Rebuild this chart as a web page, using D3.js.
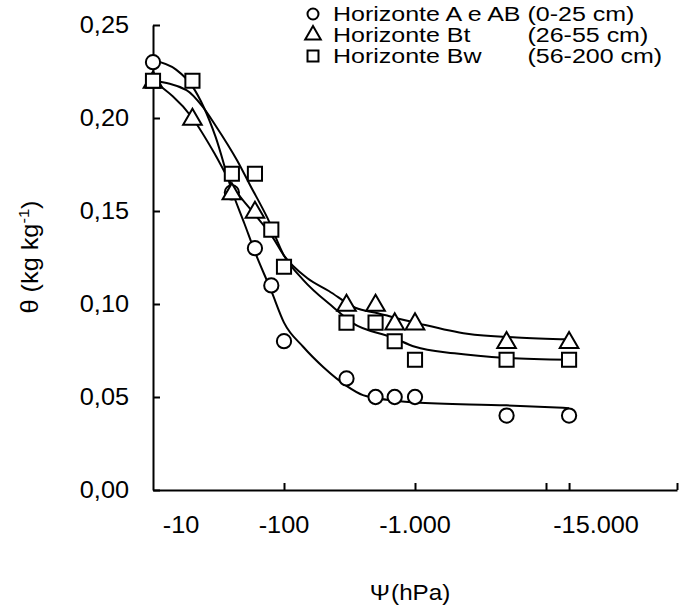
<!DOCTYPE html>
<html>
<head>
<meta charset="utf-8">
<script src="https://cdn.jsdelivr.net/npm/d3@7"></script>
<style>
  body { margin: 0; background: #fff; }
  text { font-family: Arial, "Liberation Sans", sans-serif; fill: #000; white-space: pre; }
</style>
</head>
<body>
<div id="chart"></div>
<script>
// measured points (suction in hPa, water content in kg/kg)
const suctionA  = [10, 40, 60, 80, 100, 300, 500, 700, 1000, 5000, 15000];
const thetaA    = [0.23, 0.16, 0.13, 0.11, 0.08, 0.06, 0.05, 0.05, 0.05, 0.04, 0.04];
const suctionBt = [10, 20, 40, 60, 300, 500, 700, 1000, 5000, 15000];
const thetaBt   = [0.22, 0.20, 0.16, 0.15, 0.10, 0.10, 0.09, 0.09, 0.08, 0.08];
const suctionBw = [10, 20, 40, 60, 80, 100, 300, 500, 700, 1000, 5000, 15000];
const thetaBw   = [0.22, 0.22, 0.17, 0.17, 0.14, 0.12, 0.09, 0.09, 0.08, 0.07, 0.07, 0.07];

// fitted curves
const fitSuctionA  = [10, 15, 20, 30, 40, 50, 60, 80, 100, 140, 200, 300, 400, 500, 700, 1000, 5000, 15000];
const fitThetaA    = [0.231, 0.226, 0.217, 0.19, 0.161, 0.143, 0.128, 0.107, 0.09, 0.077, 0.066, 0.056, 0.051, 0.0495, 0.048, 0.047, 0.0455, 0.044];
const fitSuctionBt = [10, 20, 30, 40, 60, 80, 100, 150, 220, 350, 520, 1000, 2500, 6000, 15000];
const fitThetaBt   = [0.22, 0.20, 0.18, 0.164, 0.148, 0.137, 0.126, 0.114, 0.107, 0.098, 0.095, 0.09, 0.084, 0.082, 0.081];
const fitSuctionBw = [10, 18, 24, 30, 44, 55, 75, 100, 140, 240, 330, 675, 1000, 2000, 5000, 15000];
const fitThetaBw   = [0.22, 0.215, 0.206, 0.196, 0.177, 0.164, 0.146, 0.126, 0.113, 0.098, 0.09, 0.082, 0.077, 0.0735, 0.071, 0.07];

const yTicks = [0, 0.05, 0.10, 0.15, 0.20, 0.25];
const xTickMarks = [100, 1000, 10000, 15000, 100000];
const xTickLabels = [10, 100, 1000, 15000];
const legendNames = ["Horizonte A e AB", "Horizonte Bt", "Horizonte Bw"];
const legendDepths = ["(0-25 cm)", "(26-55 cm)", "(56-200 cm)"];

let w = 679, h = 608;
let fontSize = 23, stretch = 1.1;

let svg = d3.select("#chart")
            .append("svg")
            .attr("width", w)
            .attr("height", h);

svg.append("rect").attr("width", w).attr("height", h).attr("fill", "#fff");

let x = d3.scaleLog().domain([10, 100000]).range([153, 677]);
let y = d3.scaleLinear().domain([0, 0.25]).range([490, 25]);

// portuguese number format: comma decimal, dot thousands
let locale = d3.formatLocale({decimal: ",", thousands: ".", grouping: [3], currency: ["", ""], minus: "-"});
let fmtY = locale.format(".2f");
let fmtX = locale.format(",d");

// axes, ticks pointing inside
let yAxis = d3.axisLeft(y).tickValues(yTicks).tickSizeInner(-7).tickSizeOuter(0).tickFormat("");
let xAxis = d3.axisBottom(x).tickValues(xTickMarks).tickSizeInner(-7).tickSizeOuter(0).tickFormat("");

let gy = svg.append("g").attr("transform", "translate(153,0)").call(yAxis);
let gx = svg.append("g").attr("transform", "translate(0,490)").call(xAxis);
[gy, gx].forEach(g => {
  g.selectAll("path, line").attr("stroke", "#000").attr("stroke-width", 2);
});

// stretched text helper (original lettering is a bit wider than Arial)
let addText = (parent, str, tx, ty, anchor, rot, size, sx) => {
  return parent.append("text")
    .attr("transform", `translate(${tx},${ty})${rot ? ` rotate(${rot})` : ""} scale(${sx || stretch},1)`)
    .attr("text-anchor", anchor)
    .style("font-size", (size || fontSize) + "px")
    .text(str);
};

yTicks.forEach(v => {
  addText(svg, fmtY(v), 129, y(v), "end").attr("dy", "0.36em");
});

// x labels sit roughly centred on their ticks, first and last nudged right
let labelNudge = [28, 0, 0, 27];
xTickLabels.forEach((v, i) => {
  addText(svg, fmtX(-v), x(v) + labelNudge[i], 533, "middle");
});

// axis titles
let yt = addText(svg, "", 38, 257, "middle", -90);
yt.append("tspan").text("θ (kg kg");
yt.append("tspan").attr("dy", -9).style("font-size", "15px").text("-1");
yt.append("tspan").attr("dy", 9).text(")");

let xt = addText(svg, "", 410, 600, "middle", 0, 22);
xt.append("tspan").text("Ψ");
xt.append("tspan").attr("dx", 1).text("(hPa)");

// fitted curves
let line = d3.line()
  .x(d => x(d[0]))
  .y(d => y(d[1]))
  .curve(d3.curveMonotoneX);

let curves = [
  d3.zip(fitSuctionA, fitThetaA),
  d3.zip(fitSuctionBt, fitThetaBt),
  d3.zip(fitSuctionBw, fitThetaBw)
];

svg.selectAll(".fit")
   .data(curves)
   .enter()
   .append("path")
   .attr("class", "fit")
   .attr("d", line)
   .attr("fill", "none")
   .attr("stroke", "#000")
   .attr("stroke-width", 2);

// markers
let symbols = [d3.symbolCircle, d3.symbolTriangle, d3.symbolSquare];
let sizes = [160, 150, 200];
let series = [
  d3.zip(suctionA, thetaA),
  d3.zip(suctionBt, thetaBt),
  d3.zip(suctionBw, thetaBw)
];

series.forEach((pts, i) => {
  svg.append("g")
     .selectAll("path")
     .data(pts)
     .enter()
     .append("path")
     .attr("d", d3.symbol().type(symbols[i]).size(sizes[i]))
     .attr("transform", d => `translate(${x(d[0])},${y(d[1]) + (i == 1 ? 1.5 : 0)})`)
     .attr("fill", "#fff")
     .attr("stroke", "#000")
     .attr("stroke-width", 2);
});

// legend
let legend = svg.append("g");
let legendY = [21, 42, 63];
let legendSize = 20, legendStretch = 1.25;
let firstLine = addText(legend, legendNames[0] + " ", 333, legendY[0], "start", 0, legendSize, legendStretch);
let depthX = 333 + firstLine.node().getComputedTextLength() * legendStretch;

legendNames.forEach((name, i) => {
  legend.append("path")
        .attr("d", d3.symbol().type(symbols[i]).size([95, 105, 120][i]))
        .attr("transform", `translate(313,${legendY[i] - 7})`)
        .attr("fill", "#fff")
        .attr("stroke", "#000")
        .attr("stroke-width", 2);
  if (i > 0) addText(legend, name, 333, legendY[i], "start", 0, legendSize, legendStretch);
  addText(legend, legendDepths[i], depthX, legendY[i], "start", 0, legendSize, legendStretch);
});
</script>
</body>
</html>
